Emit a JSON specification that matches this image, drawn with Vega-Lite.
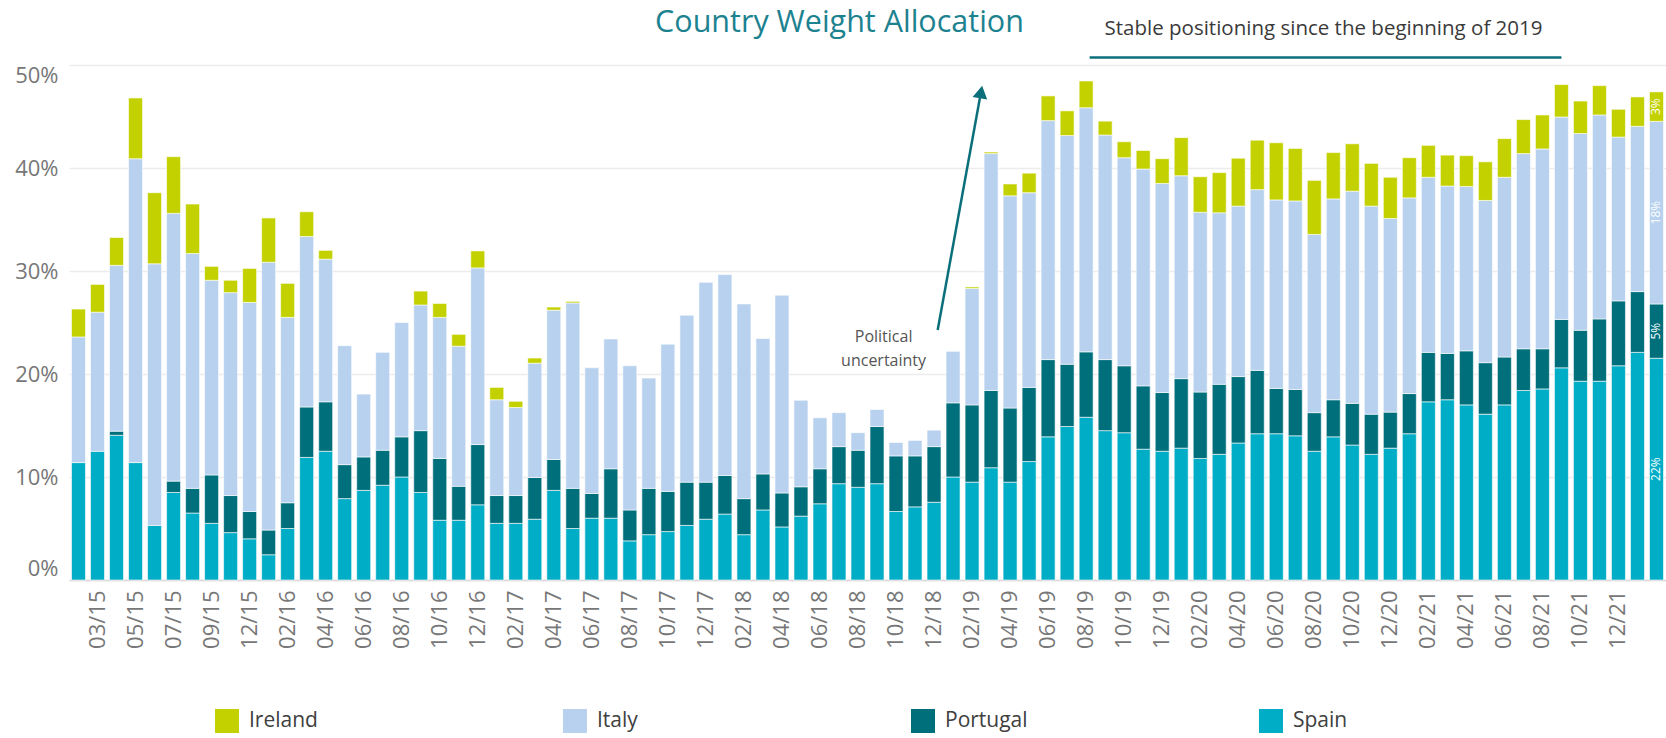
{
  "$schema": "https://vega.github.io/schema/vega-lite/v6.json",
  "width": 1597,
  "height": 515,
  "autosize": {"type": "none"},
  "padding": {"left": 69, "top": 65, "right": 0, "bottom": 158},
  "background": "white",
  "config": {"view": {"stroke": null}, "font": "Open Sans"},
  "title": {"text": "Country Weight Allocation", "font": "Open Sans", "fontSize": 30.5, "fontWeight": "normal", "color": "#1d8290", "anchor": "middle", "frame": "group", "dx": -28, "dy": 35, "offset": 0, "baseline": "middle"},
  "data": {"values": [
    {"month": "02/15", "Spain": 0.114, "Portugal": 0, "Italy": 0.122, "Ireland": 0.027},
    {"month": "03/15", "Spain": 0.125, "Portugal": 0, "Italy": 0.135, "Ireland": 0.027},
    {"month": "04/15", "Spain": 0.1405, "Portugal": 0.004, "Italy": 0.161, "Ireland": 0.027},
    {"month": "05/15", "Spain": 0.114, "Portugal": 0, "Italy": 0.295, "Ireland": 0.059},
    {"month": "06/15", "Spain": 0.053, "Portugal": 0, "Italy": 0.254, "Ireland": 0.069},
    {"month": "07/15", "Spain": 0.085, "Portugal": 0.011, "Italy": 0.26, "Ireland": 0.055},
    {"month": "08/15", "Spain": 0.065, "Portugal": 0.024, "Italy": 0.228, "Ireland": 0.048},
    {"month": "09/15", "Spain": 0.055, "Portugal": 0.047, "Italy": 0.189, "Ireland": 0.0135},
    {"month": "10/15", "Spain": 0.046, "Portugal": 0.036, "Italy": 0.197, "Ireland": 0.012},
    {"month": "12/15", "Spain": 0.04, "Portugal": 0.0265, "Italy": 0.203, "Ireland": 0.033},
    {"month": "01/16", "Spain": 0.0245, "Portugal": 0.024, "Italy": 0.26, "Ireland": 0.043},
    {"month": "02/16", "Spain": 0.05, "Portugal": 0.025, "Italy": 0.18, "Ireland": 0.033},
    {"month": "03/16", "Spain": 0.119, "Portugal": 0.049, "Italy": 0.1655, "Ireland": 0.024},
    {"month": "04/16", "Spain": 0.125, "Portugal": 0.048, "Italy": 0.1385, "Ireland": 0.0085},
    {"month": "05/16", "Spain": 0.079, "Portugal": 0.033, "Italy": 0.1155, "Ireland": 0},
    {"month": "06/16", "Spain": 0.087, "Portugal": 0.0325, "Italy": 0.061, "Ireland": 0},
    {"month": "07/16", "Spain": 0.092, "Portugal": 0.034, "Italy": 0.095, "Ireland": 0},
    {"month": "08/16", "Spain": 0.1, "Portugal": 0.039, "Italy": 0.111, "Ireland": 0},
    {"month": "09/16", "Spain": 0.085, "Portugal": 0.06, "Italy": 0.122, "Ireland": 0.0135},
    {"month": "10/16", "Spain": 0.058, "Portugal": 0.06, "Italy": 0.137, "Ireland": 0.0135},
    {"month": "11/16", "Spain": 0.058, "Portugal": 0.033, "Italy": 0.136, "Ireland": 0.0115},
    {"month": "12/16", "Spain": 0.073, "Portugal": 0.0585, "Italy": 0.1715, "Ireland": 0.0165},
    {"month": "01/17", "Spain": 0.055, "Portugal": 0.027, "Italy": 0.093, "Ireland": 0.012},
    {"month": "02/17", "Spain": 0.055, "Portugal": 0.027, "Italy": 0.0855, "Ireland": 0.006},
    {"month": "03/17", "Spain": 0.059, "Portugal": 0.0405, "Italy": 0.111, "Ireland": 0.005},
    {"month": "04/17", "Spain": 0.087, "Portugal": 0.03, "Italy": 0.145, "Ireland": 0.003},
    {"month": "05/17", "Spain": 0.05, "Portugal": 0.039, "Italy": 0.18, "Ireland": 0.0015},
    {"month": "06/17", "Spain": 0.06, "Portugal": 0.024, "Italy": 0.122, "Ireland": 0},
    {"month": "07/17", "Spain": 0.06, "Portugal": 0.048, "Italy": 0.126, "Ireland": 0},
    {"month": "08/17", "Spain": 0.038, "Portugal": 0.03, "Italy": 0.14, "Ireland": 0},
    {"month": "09/17", "Spain": 0.044, "Portugal": 0.045, "Italy": 0.107, "Ireland": 0},
    {"month": "10/17", "Spain": 0.047, "Portugal": 0.039, "Italy": 0.143, "Ireland": 0},
    {"month": "11/17", "Spain": 0.053, "Portugal": 0.042, "Italy": 0.162, "Ireland": 0},
    {"month": "12/17", "Spain": 0.059, "Portugal": 0.036, "Italy": 0.194, "Ireland": 0},
    {"month": "01/18", "Spain": 0.064, "Portugal": 0.0375, "Italy": 0.195, "Ireland": 0},
    {"month": "02/18", "Spain": 0.044, "Portugal": 0.035, "Italy": 0.189, "Ireland": 0},
    {"month": "03/18", "Spain": 0.068, "Portugal": 0.035, "Italy": 0.1315, "Ireland": 0},
    {"month": "04/18", "Spain": 0.0515, "Portugal": 0.033, "Italy": 0.192, "Ireland": 0},
    {"month": "05/18", "Spain": 0.062, "Portugal": 0.0285, "Italy": 0.084, "Ireland": 0},
    {"month": "06/18", "Spain": 0.074, "Portugal": 0.034, "Italy": 0.0495, "Ireland": 0},
    {"month": "07/18", "Spain": 0.0935, "Portugal": 0.036, "Italy": 0.033, "Ireland": 0},
    {"month": "08/18", "Spain": 0.09, "Portugal": 0.036, "Italy": 0.017, "Ireland": 0},
    {"month": "09/18", "Spain": 0.0935, "Portugal": 0.0555, "Italy": 0.0165, "Ireland": 0},
    {"month": "10/18", "Spain": 0.0665, "Portugal": 0.054, "Italy": 0.013, "Ireland": 0},
    {"month": "11/18", "Spain": 0.071, "Portugal": 0.0495, "Italy": 0.015, "Ireland": 0},
    {"month": "12/18", "Spain": 0.0755, "Portugal": 0.054, "Italy": 0.016, "Ireland": 0},
    {"month": "01/19", "Spain": 0.1, "Portugal": 0.072, "Italy": 0.05, "Ireland": 0},
    {"month": "02/19", "Spain": 0.095, "Portugal": 0.075, "Italy": 0.113, "Ireland": 0.0015},
    {"month": "03/19", "Spain": 0.109, "Portugal": 0.075, "Italy": 0.23, "Ireland": 0.0015},
    {"month": "04/19", "Spain": 0.095, "Portugal": 0.072, "Italy": 0.206, "Ireland": 0.0115},
    {"month": "05/19", "Spain": 0.115, "Portugal": 0.072, "Italy": 0.189, "Ireland": 0.019},
    {"month": "06/19", "Spain": 0.139, "Portugal": 0.075, "Italy": 0.232, "Ireland": 0.024},
    {"month": "07/19", "Spain": 0.149, "Portugal": 0.0605, "Italy": 0.222, "Ireland": 0.024},
    {"month": "08/19", "Spain": 0.158, "Portugal": 0.0635, "Italy": 0.237, "Ireland": 0.026},
    {"month": "09/19", "Spain": 0.145, "Portugal": 0.069, "Italy": 0.218, "Ireland": 0.0135},
    {"month": "10/19", "Spain": 0.143, "Portugal": 0.065, "Italy": 0.202, "Ireland": 0.0155},
    {"month": "11/19", "Spain": 0.127, "Portugal": 0.0615, "Italy": 0.2105, "Ireland": 0.018},
    {"month": "12/19", "Spain": 0.125, "Portugal": 0.057, "Italy": 0.203, "Ireland": 0.024},
    {"month": "01/20", "Spain": 0.128, "Portugal": 0.0675, "Italy": 0.197, "Ireland": 0.037},
    {"month": "02/20", "Spain": 0.118, "Portugal": 0.0645, "Italy": 0.1745, "Ireland": 0.0345},
    {"month": "03/20", "Spain": 0.122, "Portugal": 0.068, "Italy": 0.1665, "Ireland": 0.039},
    {"month": "04/20", "Spain": 0.133, "Portugal": 0.0645, "Italy": 0.1655, "Ireland": 0.0465},
    {"month": "05/20", "Spain": 0.142, "Portugal": 0.0615, "Italy": 0.1755, "Ireland": 0.048},
    {"month": "06/20", "Spain": 0.142, "Portugal": 0.044, "Italy": 0.183, "Ireland": 0.0555},
    {"month": "07/20", "Spain": 0.14, "Portugal": 0.045, "Italy": 0.183, "Ireland": 0.051},
    {"month": "08/20", "Spain": 0.125, "Portugal": 0.0375, "Italy": 0.173, "Ireland": 0.0525},
    {"month": "09/20", "Spain": 0.139, "Portugal": 0.036, "Italy": 0.195, "Ireland": 0.045},
    {"month": "10/20", "Spain": 0.131, "Portugal": 0.0405, "Italy": 0.206, "Ireland": 0.046},
    {"month": "11/20", "Spain": 0.122, "Portugal": 0.039, "Italy": 0.202, "Ireland": 0.0415},
    {"month": "12/20", "Spain": 0.128, "Portugal": 0.035, "Italy": 0.188, "Ireland": 0.04},
    {"month": "01/21", "Spain": 0.142, "Portugal": 0.039, "Italy": 0.19, "Ireland": 0.039},
    {"month": "02/21", "Spain": 0.173, "Portugal": 0.048, "Italy": 0.17, "Ireland": 0.031},
    {"month": "03/21", "Spain": 0.175, "Portugal": 0.045, "Italy": 0.1625, "Ireland": 0.03},
    {"month": "04/21", "Spain": 0.17, "Portugal": 0.0525, "Italy": 0.1595, "Ireland": 0.03},
    {"month": "05/21", "Spain": 0.161, "Portugal": 0.05, "Italy": 0.1575, "Ireland": 0.0375},
    {"month": "06/21", "Spain": 0.17, "Portugal": 0.0465, "Italy": 0.1745, "Ireland": 0.0375},
    {"month": "07/21", "Spain": 0.184, "Portugal": 0.0405, "Italy": 0.1895, "Ireland": 0.033},
    {"month": "08/21", "Spain": 0.1855, "Portugal": 0.039, "Italy": 0.194, "Ireland": 0.033},
    {"month": "09/21", "Spain": 0.206, "Portugal": 0.047, "Italy": 0.1965, "Ireland": 0.0315},
    {"month": "10/21", "Spain": 0.193, "Portugal": 0.0495, "Italy": 0.191, "Ireland": 0.0315},
    {"month": "11/21", "Spain": 0.193, "Portugal": 0.0605, "Italy": 0.198, "Ireland": 0.0285},
    {"month": "12/21", "Spain": 0.208, "Portugal": 0.063, "Italy": 0.159, "Ireland": 0.027},
    {"month": "01/22", "Spain": 0.221, "Portugal": 0.059, "Italy": 0.1605, "Ireland": 0.0285},
    {"month": "02/22", "Spain": 0.2153, "Portugal": 0.0527, "Italy": 0.1773, "Ireland": 0.0286}
  ]},
  "layer": [
    {
      "transform": [
        {"fold": ["Spain", "Portugal", "Italy", "Ireland"], "as": ["country", "value"]},
        {"filter": "datum.value > 0"},
        {"stack": "value", "groupby": ["month"], "sort": [{"field": "country", "order": "descending"}], "as": ["v0", "v1"]}
      ],
      "mark": {"type": "bar", "stroke": "white", "strokeWidth": 0.6},
      "encoding": {
        "x": {
          "field": "month", "type": "ordinal", "sort": null,
          "scale": {
            "domain": ["02/15","03/15","04/15","05/15","06/15","07/15","08/15","09/15","10/15","12/15","01/16","02/16","03/16","04/16","05/16","06/16","07/16","08/16","09/16","10/16","11/16","12/16","01/17","02/17","03/17","04/17","05/17","06/17","07/17","08/17","09/17","10/17","11/17","12/17","01/18","02/18","03/18","04/18","05/18","06/18","07/18","08/18","09/18","10/18","11/18","12/18","01/19","02/19","03/19","04/19","05/19","06/19","07/19","08/19","09/19","10/19","11/19","12/19","01/20","02/20","03/20","04/20","05/20","06/20","07/20","08/20","09/20","10/20","11/20","12/20","01/21","02/21","03/21","04/21","05/21","06/21","07/21","08/21","09/21","10/21","11/21","12/21","01/22","02/22"],
            "paddingInner": 0.264, "paddingOuter": 0.132
          },
          "axis": {
            "title": null,
            "values": ["03/15","05/15","07/15","09/15","12/15","02/16","04/16","06/16","08/16","10/16","12/16","02/17","04/17","06/17","08/17","10/17","12/17","02/18","04/18","06/18","08/18","10/18","12/18","02/19","04/19","06/19","08/19","10/19","12/19","02/20","04/20","06/20","08/20","10/20","12/20","02/21","04/21","06/21","08/21","10/21","12/21"],
            "labelAngle": 270, "ticks": false, "labelPadding": 10, "domainColor": "#d9d9d9", "domainWidth": 1.5,
            "labelFont": "Open Sans", "labelFontSize": 22, "labelColor": "#777777", "grid": false
          }
        },
        "y": {
          "field": "v0", "type": "quantitative",
          "scale": {"domain": [0, 0.5]},
          "axis": {
            "title": null, "values": [0, 0.1, 0.2, 0.3, 0.4, 0.5], "format": ".0%",
            "labelFont": "Open Sans", "labelFontSize": 22, "labelColor": "#777777",
            "domain": false, "ticks": false, "labelPadding": 11, "gridColor": "#ececec", "gridWidth": 1.5, "labelFlush": true
          }
        },
        "y2": {"field": "v1"},
        "color": {
          "field": "country", "type": "nominal",
          "scale": {"domain": ["Ireland", "Italy", "Portugal", "Spain"], "range": ["#c3d100", "#b7d1ee", "#006f7c", "#00adc6"]},
          "legend": {
            "title": null, "orient": "none", "legendX": 146, "legendY": 644, "direction": "horizontal",
            "columns": 4, "gridAlign": "all", "columnPadding": 231, "symbolType": "square", "symbolSize": 576,
            "symbolStrokeWidth": 0, "labelFont": "Open Sans", "labelFontSize": 21, "labelColor": "#404040",
            "labelOffset": 10, "padding": 0
          }
        }
      }
    },
    {
      "transform": [
        {"fold": ["Spain", "Portugal", "Italy", "Ireland"], "as": ["country", "value"]},
        {"filter": "datum.value > 0"},
        {"stack": "value", "groupby": ["month"], "sort": [{"field": "country", "order": "descending"}], "as": ["v0", "v1"]},
        {"filter": "datum.month == '02/22'"},
        {"calculate": "(datum.v0 + datum.v1) / 2", "as": "mid"}
      ],
      "mark": {"type": "text", "angle": 270, "color": "white", "fontSize": 12, "font": "Open Sans", "align": "center", "baseline": "middle"},
      "encoding": {
        "x": {"field": "month", "type": "ordinal"},
        "y": {"field": "mid", "type": "quantitative"},
        "text": {"field": "value", "type": "quantitative", "format": ".0%"}
      }
    },
    {
      "data": {"values": [{"month": "12/18", "month2": "02/19", "y": 0.2427, "y2": 0.468}]},
      "mark": {"type": "rule", "color": "#0b6f7b", "strokeWidth": 2.5},
      "encoding": {
        "x": {"field": "month", "type": "ordinal", "bandPosition": 0.76},
        "x2": {"field": "month2", "bandPosition": 1.06},
        "y": {"field": "y", "type": "quantitative"},
        "y2": {"field": "y2"}
      }
    },
    {
      "data": {"values": [{"month": "02/19", "y": 0.4738}]},
      "mark": {"type": "point", "shape": "triangle-up", "filled": true, "color": "#0b6f7b", "size": 220, "angle": 10, "opacity": 1},
      "encoding": {
        "x": {"field": "month", "type": "ordinal", "bandPosition": 1.14},
        "y": {"field": "y", "type": "quantitative"}
      }
    },
    {
      "data": {"values": [{"month": "09/18", "label": "Political", "y": 0.236}, {"month": "09/18", "label": "uncertainty", "y": 0.2126}]},
      "mark": {"type": "text", "fontSize": 16, "font": "Open Sans", "color": "#555555", "align": "center", "baseline": "middle"},
      "encoding": {
        "x": {"field": "month", "type": "ordinal", "bandPosition": 0.97},
        "y": {"field": "y", "type": "quantitative"},
        "text": {"field": "label"}
      }
    },
    {
      "data": {"values": [{"month": "08/20", "label": "Stable positioning since the beginning of 2019", "y": 0.5354}]},
      "mark": {"type": "text", "fontSize": 20.5, "font": "Open Sans", "color": "#3a3a3a", "align": "center", "baseline": "middle"},
      "encoding": {
        "x": {"field": "month", "type": "ordinal", "bandPosition": 1.16},
        "y": {"field": "y", "type": "quantitative"},
        "text": {"field": "label"}
      }
    },
    {
      "data": {"values": [{"month": "08/19", "month2": "09/21", "y": 0.5074}]},
      "mark": {"type": "rule", "color": "#0b6f7b", "strokeWidth": 2.5},
      "encoding": {
        "x": {"field": "month", "type": "ordinal", "bandPosition": 0.75},
        "x2": {"field": "month2"},
        "y": {"field": "y", "type": "quantitative"}
      }
    }
  ]
}
